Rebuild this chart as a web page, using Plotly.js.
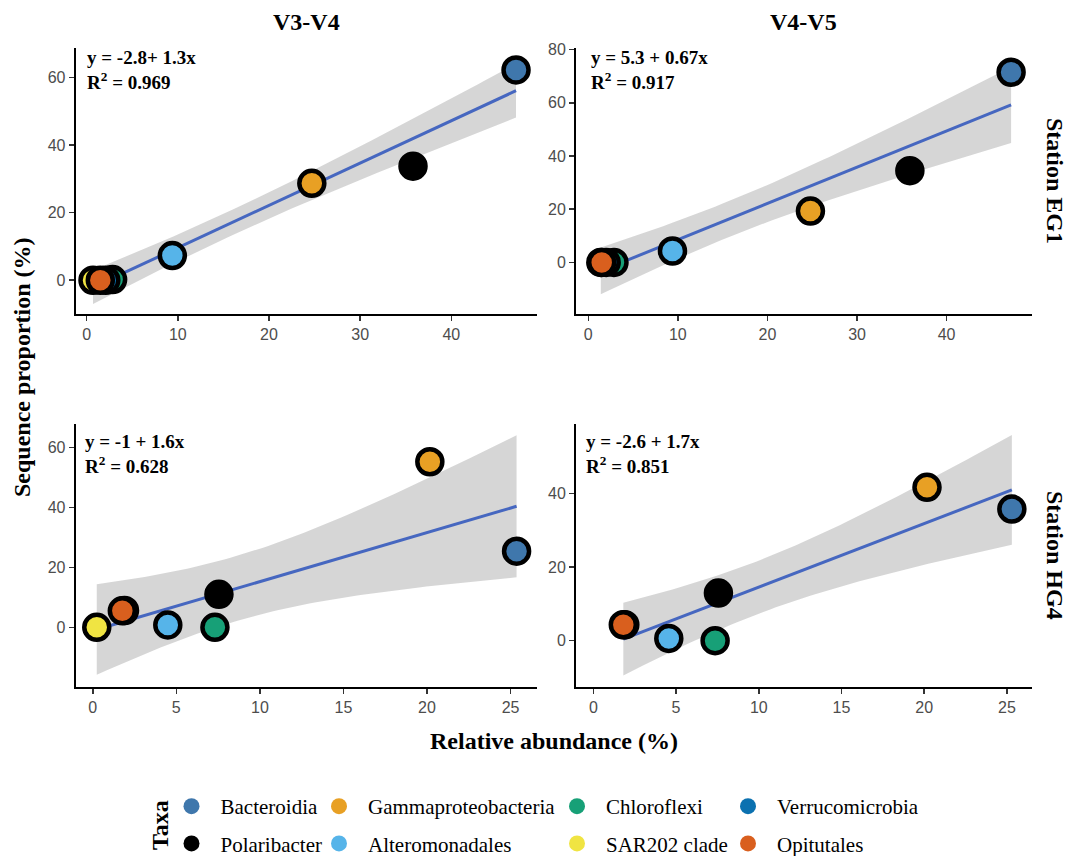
<!DOCTYPE html>
<html>
<head>
<meta charset="utf-8">
<script src="https://cdn.plot.ly/plotly-3.0.1.min.js"></script>
<style>html,body{margin:0;padding:0;background:#fff;}#chart{width:1070px;height:856px;}</style>
</head>
<body>
<div id="chart"></div>
<script>
// ---------------- DATA ----------------
const taxa = ["Bacteroidia","Polaribacter","Gammaproteobacteria","Alteromonadales","Chloroflexi","SAR202 clade","Verrucomicrobia","Opitutales"];
const taxaColors = ["#3f77ac","#000000","#e8a024","#56b4e9","#17a077","#f0e442","#0b71b0","#d95f1e"];

const regions = ["V3-V4","V4-V5"];
const stations = ["Station EG1","Station HG4"];

// relative abundance (x) and sequence proportion (y), in taxa order
const v34EG1X = [47.1, 35.8, 24.7, 9.4, 2.85, 0.7, 2.1, 1.5];
const v34EG1Y = [62.3, 33.8, 28.7, 7.3, 0.2, 0.0, 0.0, 0.0];
const v45EG1X = [47.2, 35.9, 24.8, 9.4, 2.87, 1.4, 2.0, 1.5];
const v45EG1Y = [71.5, 34.5, 19.3, 4.3, 0.0, 0.0, 0.0, 0.0];
const v34HG4X = [25.36, 7.55, 20.17, 4.49, 7.31, 0.24, 1.9, 1.77];
const v34HG4Y = [25.4, 11.0, 55.2, 0.8, 0.0, 0.0, 5.6, 5.5];
const v45HG4X = [25.3, 7.56, 20.17, 4.56, 7.36, null, 1.9, 1.81];
const v45HG4Y = [35.7, 12.9, 41.6, 0.6, 0.0, null, 4.3, 4.3];

const eqLabels = ["y = -2.8+ 1.3x", "y = 5.3 + 0.67x", "y = -1 + 1.6x", "y = -2.6 + 1.7x"];
const r2Labels = ["0.969", "0.917", "0.628", "0.851"];

// ---------------- HELPERS ----------------
const W = 1070, H = 856;
const fx = p => p / W;
const fy = p => 1 - p / H;
const SERIF = 'Liberation Serif';
const SANS = 'Liberation Sans';
const tTable = {1:12.706,2:4.303,3:3.182,4:2.776,5:2.571,6:2.447,7:2.365,8:2.306,9:2.262,10:2.228};

function lmSmooth(xsIn, ysIn) {
  const xs = [], ys = [];
  xsIn.forEach((v, i) => { if (v !== null && ysIn[i] !== null) { xs.push(v); ys.push(ysIn[i]); } });
  const n = xs.length;
  const mx = xs.reduce((a, b) => a + b, 0) / n;
  const my = ys.reduce((a, b) => a + b, 0) / n;
  let sxx = 0, sxy = 0;
  for (let i = 0; i < n; i++) { sxx += (xs[i] - mx) ** 2; sxy += (xs[i] - mx) * (ys[i] - my); }
  const b = sxy / sxx, a = my - b * mx;
  let sse = 0;
  for (let i = 0; i < n; i++) sse += (ys[i] - a - b * xs[i]) ** 2;
  const s = Math.sqrt(sse / (n - 2));
  const t = tTable[n - 2];
  const xmin = Math.min(...xs), xmax = Math.max(...xs);
  const gx = [], fit = [], lo = [], hi = [];
  const N = 80;
  for (let k = 0; k < N; k++) {
    const x = xmin + (xmax - xmin) * k / (N - 1);
    const f = a + b * x;
    const se = s * Math.sqrt(1 / n + (x - mx) ** 2 / sxx);
    gx.push(x); fit.push(f); lo.push(f - t * se); hi.push(f + t * se);
  }
  return { gx, fit, lo, hi };
}

// ---------------- PANELS ----------------
const panels = [
  { x: v34EG1X, y: v34EG1Y, xr: [-1.2, 49.4], yr: [-10.0, 68.8], dx: 10, L: 75.7, R: 537, T: 48, B: 314, xs: 9, ys: 3 },
  { x: v45EG1X, y: v45EG1Y, xr: [-1.37, 49.5], yr: [-19.4, 80.6], dx: 10, L: 576, R: 1031.7, T: 48, B: 314, xs: 13, ys: 3 },
  { x: v34HG4X, y: v34HG4Y, xr: [-1.02, 26.6], yr: [-19.8, 67.8], dx: 5, L: 75.7, R: 537.3, T: 424, B: 686.7, xs: 7, ys: -5 },
  { x: v45HG4X, y: v45HG4Y, xr: [-1.05, 26.5], yr: [-12.5, 58.8], dx: 5, L: 576, R: 1031.7, T: 424, B: 686.7, xs: 8, ys: -5 }
];

const traces = [];
const layout = {
  width: W, height: H,
  margin: { l: 0, r: 0, t: 0, b: 0, autoexpand: false },
  paper_bgcolor: '#fff', plot_bgcolor: '#fff',
  font: { family: SERIF, size: 21, color: '#000' },
  showlegend: true,
  annotations: [],
  hovermode: false
};

panels.forEach((p, i) => {
  const sfx = i === 0 ? '' : String(i + 1);
  const xa = 'x' + sfx, ya = 'y' + sfx;
  const axCommon = {
    showline: true, linecolor: '#000', linewidth: 2,
    ticks: 'outside', ticklen: 5, tickwidth: 1.5, tickcolor: '#333',
    tickfont: { family: SANS, size: 16, color: '#4d4d4d' },
    showgrid: false, zeroline: false, tick0: 0, automargin: false
  };
  layout['xaxis' + sfx] = Object.assign({}, axCommon, {
    domain: [fx(p.L), fx(p.R)], range: p.xr, dtick: p.dx, anchor: ya
  });
  layout['yaxis' + sfx] = Object.assign({}, axCommon, {
    domain: [fy(p.B), fy(p.T)], range: p.yr, dtick: 20, anchor: xa
  });

  const sm = lmSmooth(p.x, p.y);
  traces.push({
    type: 'scatter', mode: 'lines', xaxis: xa, yaxis: ya,
    x: sm.gx.concat(sm.gx.slice().reverse()),
    y: sm.hi.concat(sm.lo.slice().reverse()),
    fill: 'toself', fillcolor: 'rgba(153,153,153,0.4)',
    line: { width: 0, color: 'rgba(0,0,0,0)' },
    showlegend: false, hoverinfo: 'skip'
  });
  traces.push({
    type: 'scatter', mode: 'lines', xaxis: xa, yaxis: ya,
    x: sm.gx, y: sm.fit,
    line: { color: '#4667c0', width: 3 },
    showlegend: false, hoverinfo: 'skip'
  });
  traces.push({
    type: 'scatter', mode: 'markers', xaxis: xa, yaxis: ya,
    x: p.x, y: p.y,
    marker: { color: taxaColors, size: 25, line: { color: '#000', width: 4.5 } },
    showlegend: false
  });

  layout.annotations.push({
    xref: xa + ' domain', yref: ya + ' domain', x: 0, y: 1,
    xanchor: 'left', yanchor: 'top', align: 'left',
    xshift: p.xs, yshift: p.ys, showarrow: false,
    text: '<b>' + eqLabels[i] + '<br>R<sup>2</sup> = ' + r2Labels[i] + '</b>',
    font: { family: SERIF, size: 19, color: '#000' }
  });
});

// legend-only traces (one per taxon, split into four two-row columns)
taxa.forEach((name, i) => {
  const col = Math.floor(i / 2);
  traces.push({
    type: 'scatter', mode: 'markers', x: [null], y: [null], xaxis: 'x', yaxis: 'y',
    name: name, legendgroup: name,
    legend: col === 0 ? 'legend' : 'legend' + (col + 1),
    marker: { color: taxaColors[i], size: 16 },
    showlegend: true
  });
});

const legendCircleX = [193.5, 341, 579, 750];
legendCircleX.forEach((cx, c) => {
  layout[c === 0 ? 'legend' : 'legend' + (c + 1)] = {
    orientation: 'v', x: fx(cx - 31), xanchor: 'left', y: fy(786), yanchor: 'top',
    font: { family: SERIF, size: 21, color: '#000' },
    bgcolor: 'rgba(0,0,0,0)', borderwidth: 0,
    itemwidth: 48, tracegroupgap: 7, itemclick: false, itemdoubleclick: false
  };
});

// titles
const titleFont = { family: SERIF, size: 24, color: '#000' };
layout.annotations.push(
  { xref: 'paper', yref: 'paper', x: fx((75.7 + 537) / 2), y: fy(22), text: '<b>' + regions[0] + '</b>', showarrow: false, font: titleFont, xanchor: 'center', yanchor: 'middle' },
  { xref: 'paper', yref: 'paper', x: fx((576 + 1031.7) / 2), y: fy(22), text: '<b>' + regions[1] + '</b>', showarrow: false, font: titleFont, xanchor: 'center', yanchor: 'middle' },
  { xref: 'paper', yref: 'paper', x: fx(1055), y: fy(181), text: '<b>' + stations[0] + '</b>', showarrow: false, font: titleFont, textangle: 90, xanchor: 'center', yanchor: 'middle' },
  { xref: 'paper', yref: 'paper', x: fx(1055), y: fy(555), text: '<b>' + stations[1] + '</b>', showarrow: false, font: titleFont, textangle: 90, xanchor: 'center', yanchor: 'middle' },
  { xref: 'paper', yref: 'paper', x: fx(22), y: fy(367), text: '<b>Sequence proportion (%)</b>', showarrow: false, font: titleFont, textangle: -90, xanchor: 'center', yanchor: 'middle' },
  { xref: 'paper', yref: 'paper', x: fx(553.7), y: fy(741), text: '<b>Relative abundance (%)</b>', showarrow: false, font: titleFont, xanchor: 'center', yanchor: 'middle' },
  { xref: 'paper', yref: 'paper', x: fx(160), y: fy(825), text: '<b>Taxa</b>', showarrow: false, font: titleFont, textangle: -90, xanchor: 'center', yanchor: 'middle' }
);

Plotly.newPlot('chart', traces, layout, { displayModeBar: false, staticPlot: true });
</script>
</body>
</html>
